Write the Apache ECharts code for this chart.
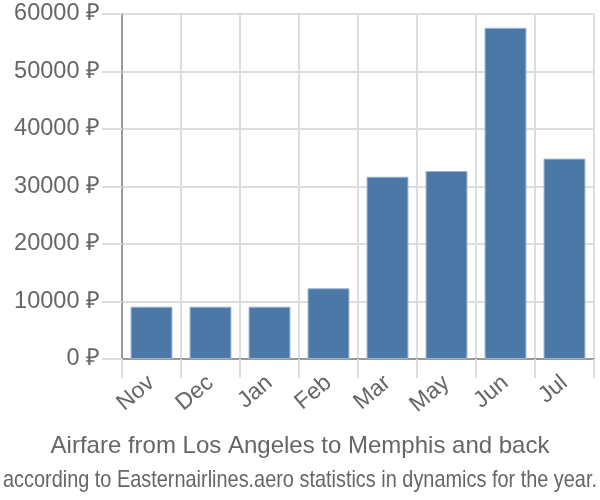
<!DOCTYPE html>
<html><head><meta charset="utf-8">
<script src="https://cdn.jsdelivr.net/npm/echarts@6/dist/echarts.min.js"></script>
<style>html,body{margin:0;padding:0;background:#fff}#c{width:600px;height:500px}</style>
</head><body><div id="c"></div>
<script>
const categories = ["Nov", "Dec", "Jan", "Feb", "Mar", "May", "Jun", "Jul"];
const prices = [9100, 9100, 9100, 12300, 31700, 32700, 57600, 34850];
const yTicks = [0, 10000, 20000, 30000, 40000, 50000, 60000];
const titleText = "Airfare from Los Angeles to Memphis and back";
const subtitleText = "according to Easternairlines.aero statistics in dynamics for the year.";

const subFont = '24px "Liberation Sans"';
const cv = document.createElement('canvas').getContext('2d');
cv.font = subFont;
const subW = cv.measureText(subtitleText).width;
const subScale = 594 / subW;

const chart = echarts.init(document.getElementById('c'), null, {renderer: 'canvas'});
chart.setOption({
  animation: false,
  grid: {left: 122, right: 6, top: 14, bottom: 141, containLabel: false},
  graphic: [
    {type: 'text', x: 300, y: 446, style: {text: titleText, font: '24px "Liberation Sans"', fill: '#666', align: 'center', verticalAlign: 'middle'}},
    {type: 'text', x: 300, y: 480, scaleX: subScale, style: {text: subtitleText, font: subFont, fill: '#666', align: 'center', verticalAlign: 'middle'}}
  ],
  xAxis: {
    type: 'category', data: categories,
    boundaryGap: true,
    axisLine: {show: true, lineStyle: {color: '#999', width: 2}},
    axisTick: {show: true, length: 19, alignWithLabel: false, lineStyle: {color: '#ddd', width: 2}},
    splitLine: {show: true, lineStyle: {color: '#ddd', width: 2}},
    axisLabel: {rotate: 40, margin: 21, fontFamily: 'Liberation Sans', fontSize: 23, color: '#666', interval: 0}
  },
  yAxis: {
    type: 'value', min: yTicks[0], max: yTicks[yTicks.length - 1], interval: yTicks[1] - yTicks[0],
    axisLine: {show: true, lineStyle: {color: '#999', width: 2}},
    axisTick: {show: true, length: 20, lineStyle: {color: '#ddd', width: 2}},
    splitLine: {show: true, lineStyle: {color: '#ddd', width: 2}},
    axisLabel: {margin: 22, fontFamily: 'Liberation Sans', fontSize: 23.5, color: '#666', formatter: v => v + ' ₽'}
  },
  series: [{
    type: 'bar', data: prices, barCategoryGap: '29%',
    itemStyle: {color: '#4c78a8', borderColor: '#9db5d2', borderWidth: 1}
  }]
});
</script></body></html>
